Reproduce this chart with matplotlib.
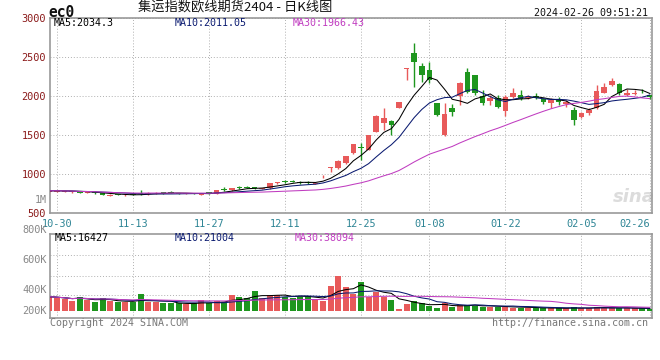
import matplotlib
matplotlib.use('Agg')
import matplotlib.pyplot as plt
import pandas as pd

plt.rcParams['font.family'] = ['DejaVu Sans Mono', 'Noto Sans CJK SC']

# trading days 2023-10-27 .. 2024-02-26
dates = ['10-27', '10-30', '10-31', '11-01', '11-02', '11-03',
         '11-06', '11-07', '11-08', '11-09', '11-10',
         '11-13', '11-14', '11-15', '11-16', '11-17',
         '11-20', '11-21', '11-22', '11-23', '11-24',
         '11-27', '11-28', '11-29', '11-30', '12-01',
         '12-04', '12-05', '12-06', '12-07', '12-08',
         '12-11', '12-12', '12-13', '12-14', '12-15',
         '12-18', '12-19', '12-20', '12-21', '12-22',
         '12-25', '12-26', '12-27', '12-28', '12-29',
         '01-02', '01-03', '01-04', '01-05',
         '01-08', '01-09', '01-10', '01-11', '01-12',
         '01-15', '01-16', '01-17', '01-18', '01-19',
         '01-22', '01-23', '01-24', '01-25', '01-26',
         '01-29', '01-30', '01-31', '02-01', '02-02',
         '02-05', '02-06', '02-07', '02-08',
         '02-19', '02-20', '02-21', '02-22', '02-23', '02-26']

opens = [770, 772, 775, 772, 782, 762, 770, 758, 725, 740, 730,
         740, 752, 745, 755, 772, 775, 762, 748, 756, 735,
         772, 748, 810, 795, 832, 836, 832, 816, 818, 893,
         910, 912, 905, 898, 880, 984, 1084, 1078, 1140, 1272,
         1352, 1315, 1545, 1652, 1680, 1848, 2352, 2550, 2385,
         2335, 1910, 1500, 1846, 2000, 2308, 2269, 2000, 1936, 1974,
         1808, 1990, 2013, 1980, 2005, 1962, 1910, 1955, 1900, 1821,
         1731, 1782, 1846, 2040, 2141, 2154, 2015, 2030, 2068, 2012]
highs = [792, 795, 790, 785, 786, 775, 772, 760, 745, 745, 742,
         745, 792, 768, 770, 775, 782, 766, 760, 760, 762,
         778, 800, 832, 826, 848, 850, 838, 826, 892, 900,
         928, 930, 910, 912, 890, 990, 1090, 1176, 1236, 1392,
         1396, 1505, 1752, 1842, 1692, 1925, 2362, 2680, 2420,
         2436, 1916, 1908, 1898, 2180, 2360, 2275, 2077, 2013, 2013,
         2013, 2103, 2077, 2010, 2040, 1980, 1974, 1987, 1950, 1859,
         1800, 1846, 2141, 2167, 2231, 2167, 2090, 2077, 2090, 2020]
lows = [765, 768, 770, 765, 760, 758, 752, 735, 718, 728, 725,
        730, 738, 740, 750, 752, 755, 748, 742, 742, 730,
        745, 742, 790, 790, 812, 818, 815, 812, 812, 870,
        888, 895, 880, 878, 876, 952, 1032, 1068, 1130, 1265,
        1180, 1305, 1535, 1564, 1500, 1844, 2205, 2115, 2180,
        2167, 1750, 1495, 1744, 1885, 2040, 2020, 1885, 1885, 1846,
        1744, 1974, 1949, 1965, 1965, 1900, 1846, 1885, 1860, 1628,
        1718, 1756, 1833, 2038, 2128, 2013, 2000, 2010, 2038, 1960]
closes = [788, 790, 782, 778, 765, 770, 758, 740, 738, 732, 738,
          735, 748, 762, 765, 758, 760, 752, 755, 746, 755,
          750, 795, 802, 820, 826, 830, 818, 822, 885, 897,
          905, 906, 886, 890, 886, 988, 1088, 1170, 1230, 1386,
          1330, 1500, 1745, 1715, 1630, 1922, 2360, 2436, 2270,
          2205, 1757, 1770, 1795, 2165, 2051, 2040, 1910, 1974, 1860,
          1987, 2038, 1962, 1995, 1978, 1920, 1949, 1920, 1923, 1692,
          1782, 1821, 2064, 2115, 2192, 2040, 2045, 2040, 2060, 1985]
volumes = [140000, 130000, 117000, 97000, 140000, 107000, 90000, 123000,
           97000, 83000, 83000, 83000, 167000, 83000, 83000, 73000,
           73000, 73000, 63000, 73000, 107000, 73000, 97000, 83000,
           157000, 140000, 130000, 197000, 130000, 157000, 157000,
           140000, 130000, 140000, 150000, 117000, 97000, 250000,
           350000, 240000, 163000, 290000, 140000, 190000, 140000,
           107000, 17000, 63000, 97000, 73000, 50000, 23000, 73000,
           40000, 57000, 57000, 50000, 40000, 40000, 40000, 40000,
           30000, 30000, 30000, 30000, 23000, 23000, 23000, 23000,
           40000, 23000, 23000, 40000, 30000, 30000, 23000, 23000,
           23000, 23000, 17000]

tick_dates = ['10-30', '11-13', '11-27', '12-11', '12-25',
              '01-08', '01-22', '02-05', '02-26']
price_ticks = [500, 1000, 1500, 2000, 2500, 3000]

RED = '#E85A5A'
GREEN = '#1E961E'
GRID = '#B0B0B0'
FRAME = '#999999'
MA_COLORS = {5: '#000000', 10: '#0A1A70', 30: '#C03CC0'}

df = pd.DataFrame({'open': opens, 'high': highs, 'low': lows,
                   'close': closes, 'vol': volumes})
df['x'] = range(len(df))
up = df['close'] >= df['open']
colors = [RED if u else GREEN for u in up]

W, H = 660, 360
fig = plt.figure(figsize=(6.6, 3.6), dpi=100)
ax = fig.add_axes([50 / W, (H - 213.3) / H, 602 / W, 195.3 / H])
axv = fig.add_axes([50 / W, (H - 317.7) / H, 602 / W, 83.4 / H])

xmin, xmax = 0.08, 79.29
tick_pos = [dates.index(d) for d in tick_dates]

# ---- candles
body = (df['close'] - df['open']).abs().clip(lower=9)
bottom = df[['open', 'close']].min(axis=1)
ax.vlines(df['x'], df['low'], df['high'], colors=colors, lw=1, zorder=3)
ax.bar(df['x'], body, bottom=bottom, width=0.76, color=colors,
       linewidth=0, zorder=4)
for n, c in MA_COLORS.items():
    ax.plot(df['x'], df['close'].rolling(n, min_periods=1).mean(),
            color=c, lw=0.75, zorder=5)

ax.set_xlim(xmin, xmax)
ax.set_ylim(500, 3000)
ax.set_yticks(price_ticks)
ax.set_yticklabels([str(t) for t in price_ticks], color='#8B1A1A',
                   fontsize=7.4)
ax.set_xticks(tick_pos)
ax.set_xticklabels(tick_dates, color='#2E8595', fontsize=7.4)
ax.get_xticklabels()[-1].set_horizontalalignment('right')
ax.tick_params(length=0, pad=3)
ax.tick_params(axis='x', pad=4)
ax.grid(True, color=GRID, linestyle=(0, (1, 2)), lw=0.7)
for s in ax.spines.values():
    s.set_color(FRAME)
    s.set_linewidth(1.2)

ax.text(53.5 / W, 1 - 23.3 / H, 'MA5:2034.3', transform=fig.transFigure,
        fontsize=7.2, color=MA_COLORS[5], va='center')
ax.text(175 / W, 1 - 23.3 / H, 'MA10:2011.05', transform=fig.transFigure,
        fontsize=7.2, color=MA_COLORS[10], va='center')
ax.text(293 / W, 1 - 23.3 / H, 'MA30:1966.43', transform=fig.transFigure,
        fontsize=7.2, color=MA_COLORS[30], va='center')
ax.text(634 / W, 1 - 197 / H, 'sina', transform=fig.transFigure,
        fontsize=13, color='#DCDCDC', ha='center', va='center',
        style='italic', weight='bold', family='DejaVu Sans', zorder=1)
fig.text(47 / W, 1 - 200 / H, '1M', fontsize=7.2, color='#888888',
         ha='right', va='center')

# ---- volume
axv.bar(df['x'], df['vol'], width=0.78, color=colors, linewidth=0, zorder=3)
for n, c in MA_COLORS.items():
    axv.plot(df['x'], df['vol'].rolling(n, min_periods=1).mean(),
             color=c, lw=0.75, zorder=4)
axv.set_xlim(xmin, xmax)
axv.set_ylim(-70000, 764000)
axv.set_xticks(tick_pos)
axv.set_xticklabels([])
axv.set_yticks([157000, 350000, 557000])
axv.set_yticklabels([])
axv.tick_params(length=0)
axv.grid(True, color=GRID, linestyle=(0, (1, 2)), lw=0.7)
for s in axv.spines.values():
    s.set_color(FRAME)
    s.set_linewidth(1.2)

for lab, y in [('800K', 230), ('600K', 260), ('400K', 290), ('200K', 311)]:
    fig.text(46.5 / W, 1 - y / H, lab, fontsize=7.4, color='#888888',
             ha='right', va='center')

fig.text(54.5 / W, 1 - 238.3 / H, 'MA5:16427', fontsize=7.2,
         color=MA_COLORS[5], va='center')
fig.text(175 / W, 1 - 238.3 / H, 'MA10:21004', fontsize=7.2,
         color=MA_COLORS[10], va='center')
fig.text(295 / W, 1 - 238.3 / H, 'MA30:38094', fontsize=7.2,
         color=MA_COLORS[30], va='center')

# ---- header / footer
fig.text(48 / W, 1 - 12.5 / H, 'ec0', fontsize=10.5, weight='bold',
         color='#111111', va='center')
fig.text(235 / W, 1 - 7.5 / H, '集运指数欧线期货2404 - 日K线图',
         fontsize=9.5, family=['Noto Sans CJK SC', 'DejaVu Sans'],
         color='#111111', ha='center', va='center')
fig.text(648 / W, 1 - 12.5 / H, '2024-02-26 09:51:21', fontsize=7.2,
         color='#111111', ha='right', va='center')
fig.text(50 / W, 1 - 323 / H, 'Copyright 2024 SINA.COM', fontsize=7.2,
         color='#777777', va='center')
fig.text(648 / W, 1 - 323 / H, 'http://finance.sina.com.cn', fontsize=7.2,
         color='#777777', ha='right', va='center')

fig.savefig('out.png', dpi=100, facecolor='white')
